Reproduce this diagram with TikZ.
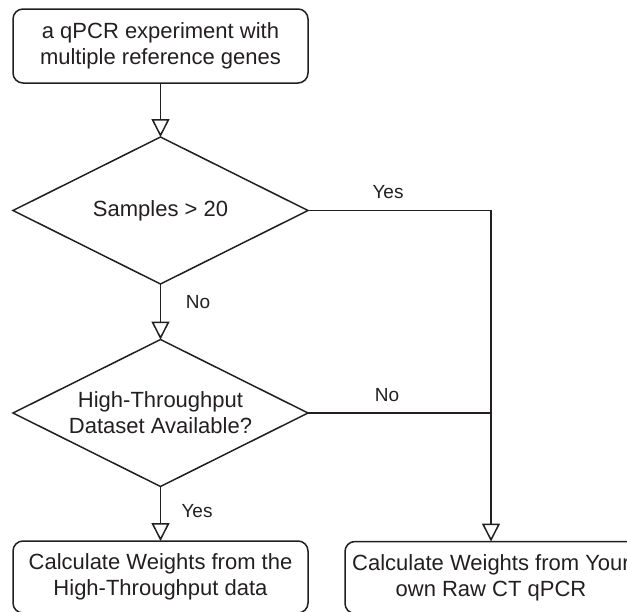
\documentclass[tikz,border=0pt]{standalone}
\usepackage{fontspec}
\setmainfont{Liberation Sans}
\usetikzlibrary{shapes.geometric,arrows.meta}
\definecolor{ink}{HTML}{231F20}
\begin{document}
\begin{tikzpicture}[x=1pt,y=-1pt,
  every node/.style={text=ink},
  base/.style={draw=ink,line width=1.5pt,align=center,inner sep=0pt,outer sep=0pt,
    font=\fontsize{22}{26}\selectfont},
  procbox/.style={base,rectangle,rounded corners=10pt,minimum width=295pt,minimum height=74pt},
  decision/.style={base,diamond,aspect=2,minimum width=295pt,minimum height=147pt},
  lbl/.style={font=\fontsize{19}{22}\selectfont,inner sep=0pt},
  conn/.style={draw=ink,line width=1.5pt},
  arr/.style={conn,-{Triangle[open,length=18pt,width=18pt]}}]
\useasboundingbox (0,0) rectangle (627,611);
\clip (0,0) rectangle (627,611);
\node[procbox] (start) at (160.5,46) {a qPCR experiment with\\multiple reference genes};
\node[decision] (d1) at (160.5,210.5) {Samples > 20};
\node[decision] (d2) at (160.5,413) {High-Throughput\\Dataset Available?};
\node[procbox,minimum height=72pt] (hb) at (160.5,577) {Calculate Weights from the\\High-Throughput data};
\node[procbox,minimum width=292pt,minimum height=72pt] (rb) at (491,577.5) {Calculate Weights from Your\\own Raw CT qPCR};
\draw[arr] (start.south) -- (d1.north);
\draw[arr] (d1.south) -- (d2.north);
\draw[arr] (d2.south) -- (hb.north);
\draw[arr] (d1.east) -- (d1.east -| rb.north) -- (rb.north);
\draw[conn] (d2.east) -- (d2.east -| rb.north);
\node[lbl] (yes1) at (388,192) {Yes};
\node[lbl] (no1) at (198,302) {No};
\node[lbl] (no2) at (387,395) {No};
\node[lbl] (yes2) at (197,511) {Yes};
\end{tikzpicture}
\end{document}
